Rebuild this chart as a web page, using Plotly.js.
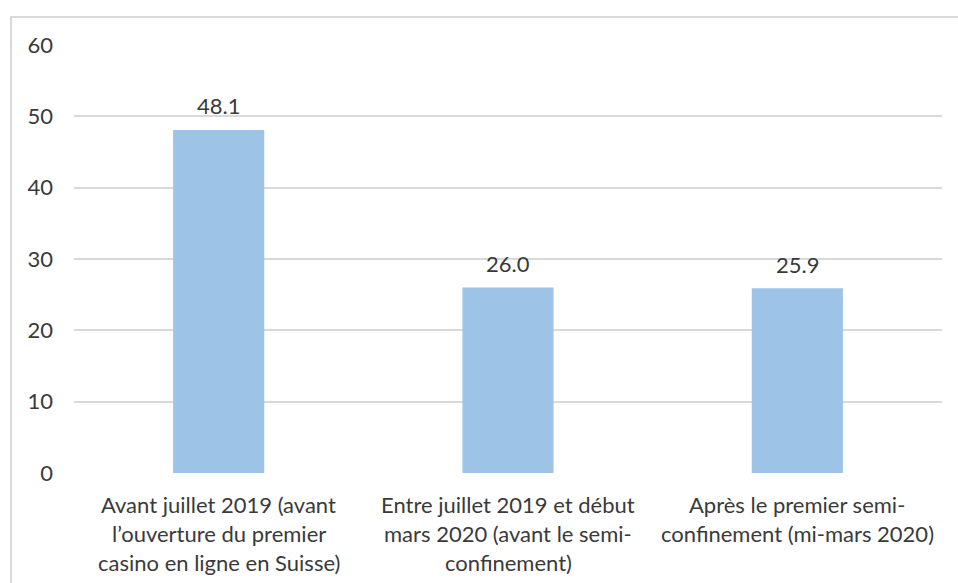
<!DOCTYPE html>
<html>
<head>
<meta charset="utf-8">
<script src="https://cdn.plot.ly/plotly-3.0.1.min.js"></script>
<style>
  html, body { margin: 0; padding: 0; background: #fff; }
  #wrap { position: relative; width: 958px; height: 583px; overflow: hidden; }
  #frame { position: absolute; left: 10px; top: 16px; width: 1200px; height: 1000px;
           border: 2px solid #D9D9D9; box-sizing: border-box; pointer-events: none; z-index: 5; }
  #chart { position: absolute; left: 0; top: 0; width: 958px; height: 583px; }
</style>
</head>
<body>
<div id="wrap">
  <div id="chart"></div>
  <div id="frame"></div>
</div>
<script>
const categories = ["cat1", "cat2", "cat3"];
const categoryLabels = [
  ["Avant juillet 2019 (avant", "l\u2019ouverture du premier", "casino en ligne en Suisse)"],
  ["Entre juillet 2019 et d\u00e9but", "mars 2020 (avant le semi-", "confinement)"],
  ["Apr\u00e8s le premier semi-", "confinement (mi-mars 2020)"]
];
const values = [48.1, 26.0, 25.9];
const valueLabels = ["48.1", "26.0", "25.9"];
const yTicks = [0, 10, 20, 30, 40, 50, 60];

const textColor = "#3A3A3A";
const fontFamily = "Lato, 'Open Sans', sans-serif";
const fontSize = 22;

const annotations = [];
categoryLabels.forEach((lines, i) => {
  lines.forEach((line, j) => {
    annotations.push({
      x: categories[i], y: 0, xref: "x", yref: "y",
      text: line, showarrow: false,
      xanchor: "center", yanchor: "middle",
      yshift: -31 - j * 29,
      font: { family: fontFamily, size: fontSize, color: textColor }
    });
  });
});
values.forEach((v, i) => {
  annotations.push({
    x: categories[i], y: v, xref: "x", yref: "y",
    text: valueLabels[i], showarrow: false,
    xanchor: "center", yanchor: "middle",
    yshift: 24,
    font: { family: fontFamily, size: fontSize, color: textColor }
  });
});

const trace = {
  type: "bar",
  x: categories,
  y: values,
  marker: { color: "#9DC3E6" },
  hoverinfo: "skip"
};

const layout = {
  width: 958, height: 583,
  margin: { l: 74, r: 16, t: 45, b: 110 },
  paper_bgcolor: "#ffffff",
  plot_bgcolor: "#ffffff",
  bargap: 0.685,
  showlegend: false,
  font: { family: fontFamily, color: textColor },
  xaxis: {
    type: "category",
    showticklabels: false,
    showgrid: false, zeroline: false, showline: false, ticks: ""
  },
  yaxis: {
    range: [0, 60],
    tickvals: yTicks,
    ticktext: yTicks.map(String),
    showgrid: true, gridcolor: "#D9D9D9", gridwidth: 2,
    zeroline: false, showline: false, ticks: "",
    ticklabelstandoff: 20,
    tickfont: { family: fontFamily, size: fontSize, color: textColor }
  },
  annotations: annotations
};

Plotly.newPlot("chart", [trace], layout, { displayModeBar: false, staticPlot: true });
</script>
</body>
</html>
